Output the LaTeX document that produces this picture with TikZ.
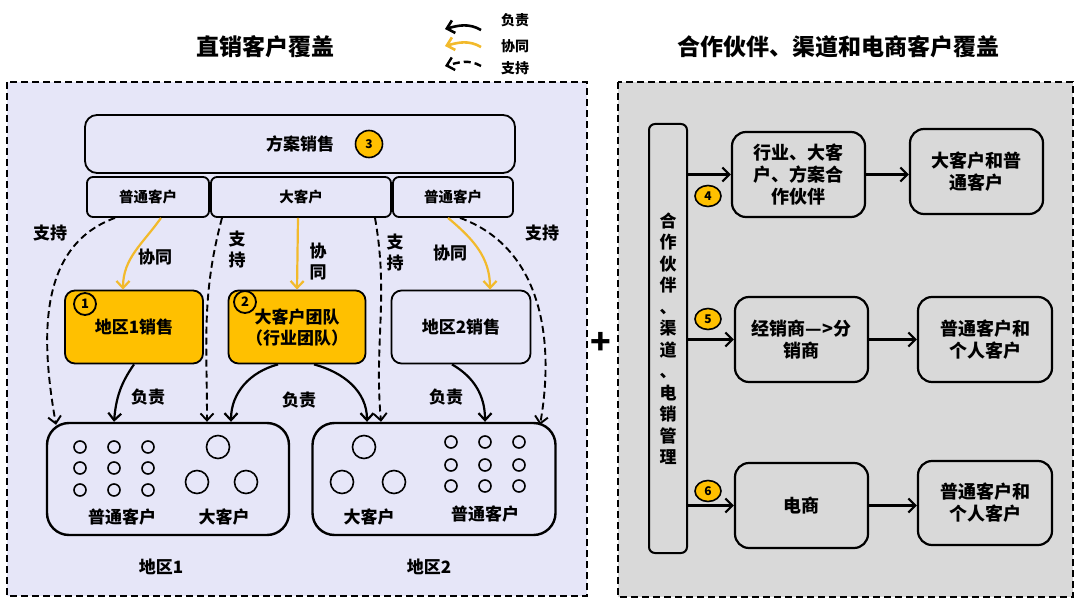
\documentclass[tikz,border=0pt]{standalone}
\usepackage{fontspec}
\setmainfont{Noto Sans CJK SC}
\usetikzlibrary{shapes.geometric, arrows.meta, positioning}
\usepackage{xcolor}
\definecolor{lavbg}{HTML}{E6E6F8}
\definecolor{greybg}{HTML}{D9D9D9}
\definecolor{gold}{HTML}{FFC000}
\definecolor{goldline}{HTML}{F2BA2C}

\begin{document}
\begin{tikzpicture}[x=1pt, y=1pt,
    every node/.style={font=\bfseries},
    panel/.style={line width=2pt, dash pattern=on 7pt off 4pt},
    box/.style={draw, line width=1.8pt, rounded corners=#1, align=center, inner sep=0pt, fill=lavbg},
    box/.default=8pt,
    lbl/.style={font=\bfseries\fontsize{17}{21}\selectfont},
    sub/.style={font=\bfseries\fontsize{14.5}{17}\selectfont},
    big/.style={font=\bfseries\fontsize{18}{22}\selectfont},
    ttl/.style={font=\bfseries\fontsize{23}{27}\selectfont},
    lgd/.style={font=\bfseries\fontsize{14}{16}\selectfont},
    duty/.style={-{Straight Barb[length=7pt,width=13pt]}, line width=2.2pt},
    coop/.style={duty, draw=goldline},
    support/.style={duty, dash pattern=on 7pt off 4pt, line width=1.9pt},
    flow/.style={-{Straight Barb[length=7pt,width=14pt]}, line width=2.2pt},
    badge/.style={ellipse, draw, line width=1.6pt, fill=gold, minimum width=26pt, minimum height=21pt, inner sep=0pt, font=\bfseries\fontsize{12}{12}\selectfont},
    ring/.style={circle, draw, line width=1.8pt, minimum size=22pt, inner sep=0pt, font=\bfseries\fontsize{13}{13}\selectfont},
    dot/.style={line width=1.6pt}
  ]
    \useasboundingbox (0,0) rectangle (1075,606);

    % the two panels
    \draw[panel, fill=lavbg] (7,524) rectangle (587,10);
    \draw[panel, fill=greybg] (618,524) rectangle (1073,9);
    \node[ttl] (ttlL) at (265,559) {直销客户覆盖};
    \node[ttl] (ttlR) at (838,559) {合作伙伴、渠道和电商客户覆盖};
    \node[font=\bfseries\fontsize{34}{34}\selectfont] (plus) at (601,263) {+};

    % legend
    \node[lgd] (lgA) at (515,586) {负责};
    \node[lgd] (lgB) at (515,560) {协同};
    \node[lgd] (lgC) at (515,538) {支持};
    \coordinate (lgA1) at (481,576);
    \coordinate (lgA2) at (445,577);
    \coordinate (lgB1) at (481,559);
    \coordinate (lgB2) at (445,560);
    \coordinate (lgC1) at (481,540);
    \coordinate (lgC2) at (445,540);
    \draw[duty, line width=2.6pt] (lgA1) to[out=150,in=15] (lgA2);
    \draw[coop, line width=2.6pt] (lgB1) to[out=150,in=15] (lgB2);
    \draw[support, line width=2.4pt] (lgC1) to[out=150,in=15] (lgC2);

    % direct sales
    \node[box=12pt, lbl, minimum width=430pt, minimum height=58pt] (fangan) at (300,462) {方案销售};
    \node[badge, minimum width=27pt, minimum height=27pt, circle] (n3) at (369,462) {3};
    \node[box=6pt, sub, minimum width=122pt, minimum height=40pt] (pt1) at (148,409) {普通客户};
    \node[box=6pt, sub, minimum width=180pt, minimum height=40pt] (dk) at (301,409) {大客户};
    \node[box=6pt, sub, minimum width=120pt, minimum height=40pt] (pt2) at (453,409) {普通客户};

    \node[box=10pt, lbl, fill=gold, minimum width=138pt, minimum height=73pt] (r1s) at (134,279) {地区1销售};
    \node[box=10pt, lbl, fill=gold, minimum width=137pt, minimum height=73pt] (dkt) at (297,279) {大客户团队\\（行业团队）};
    \node[box=10pt, lbl, minimum width=139pt, minimum height=73pt] (r2s) at (461,279) {地区2销售};
    \node[ring] (n1) at (85,302) {1};
    \node[ring] (n2) at (245,304) {2};

    \node[box=22pt, line width=2.4pt, minimum width=242pt, minimum height=112pt] (reg1) at (168,127) {};
    \node[box=22pt, line width=2.4pt, minimum width=243pt, minimum height=112pt] (reg2) at (434,127) {};
    \foreach \x in {80,114,148}
      \foreach \y in {159,138,116}
        \draw[dot] (\x,\y) circle (6pt);
    \foreach \x in {451,485,519}
      \foreach \y in {164,141,120}
        \draw[dot] (\x,\y) circle (6pt);
    \foreach \x/\y in {218/159, 197/124, 246/124, 364/159, 342/124, 394/124}
      \draw[dot] (\x,\y) circle (11.5pt);
    \node[lbl] (pt1a) at (122,89) {普通客户};
    \node[lbl] (dk1a) at (224,89) {大客户};
    \node[lbl] (dk2a) at (369,89) {大客户};
    \node[lbl] (pt2a) at (485,92) {普通客户};
    \node[lbl] (area1) at (161,39) {地区1};
    \node[lbl] (area2) at (429,39) {地区2};

    % coop arrows
    \draw[coop] ([xshift=13pt]pt1.south) to[out=-125,in=90] ([xshift=-11pt]r1s.north);
    \draw[coop] ([xshift=-3pt]dk.south) -- (dkt.north);
    \draw[coop] ([xshift=-5pt]pt2.south) to[out=-40,in=90] ([xshift=29pt]r2s.north);
    \node[lbl] (c1) at (155,349) {协同};
    \node[lbl, align=center] (c2) at (318,344) {协\\同};
    \node[lbl] (c3) at (450,353) {协同};

    % support arrows
    \draw[support] ([xshift=-33pt]pt1.south) to[out=200,in=100] ([xshift=-112pt,yshift=-3pt]reg1.north);
    \draw[support] ([xshift=-79pt]dk.south) to[out=-105,in=90] ([xshift=39pt]reg1.north);
    \draw[support] ([xshift=74pt]dk.south) to[out=-80,in=95] ([xshift=-53pt]reg2.north);
    \draw[support] ([xshift=7pt]pt2.south) to[out=-20,in=80] ([xshift=106pt,yshift=-3pt]reg2.north);
    \node[lbl] (s1) at (50,373) {支持};
    \node[lbl, align=center] (s2) at (237,356) {支\\持};
    \node[lbl, align=center] (s3) at (395,353) {支\\持};
    \node[lbl] (s4) at (542,373) {支持};

    % duty arrows
    \draw[duty] (r1s.south) to[out=-125,in=85] ([xshift=-54pt]reg1.north);
    \draw[duty] ([xshift=-19pt]dkt.south) to[out=-165,in=90] ([xshift=63pt]reg1.north);
    \draw[duty] ([xshift=17pt]dkt.south) to[out=-15,in=90] ([xshift=-67pt]reg2.north);
    \draw[duty] ([xshift=-9pt]r2s.south) to[out=-30,in=90] ([xshift=51pt]reg2.north);
    \node[lbl] (d1) at (148,209) {负责};
    \node[lbl] (d2) at (299,206) {负责};
    \node[lbl] (d3) at (446,209) {负责};

    % partners, channels, e-commerce
    \node[box=6pt, fill=greybg, line width=2pt, minimum width=38pt, minimum height=429pt, font=\bfseries\fontsize{17}{21.5}\selectfont] (bar) at (668,267.5)
      {合\\作\\伙\\伴\\、\\渠\\道\\、\\电\\销\\管\\理};
    \node[box=14pt, big, line width=2.2pt, fill=greybg, minimum width=133pt, minimum height=85pt] (b1) at (798.5,431.5) {行业、大客\\户、方案合\\作伙伴};
    \node[box=14pt, big, line width=2.2pt, fill=greybg, minimum width=133pt, minimum height=85pt] (c1b) at (976.5,434.5) {大客户和普\\通客户};
    \node[box=14pt, big, line width=2.2pt, fill=greybg, minimum width=133pt, minimum height=85pt] (b2) at (801.5,266.5) {经销商—>分\\销商};
    \node[box=14pt, big, line width=2.2pt, fill=greybg, minimum width=134pt, minimum height=85pt] (c2b) at (985,266.5) {普通客户和\\个人客户};
    \node[box=14pt, big, line width=2.2pt, fill=greybg, minimum width=133pt, minimum height=85pt] (b3) at (801.5,100.5) {电商};
    \node[box=14pt, big, line width=2.2pt, fill=greybg, minimum width=134pt, minimum height=84pt] (c3b) at (985,103) {普通客户和\\个人客户};

    \draw[flow] (bar.east |- b1.west) -- (b1.west);
    \draw[flow] (bar.east |- b2.west) -- (b2.west);
    \draw[flow] (bar.east |- b3.west) -- (b3.west);
    \draw[flow] (b1.east) -- (b1.east -| c1b.west);
    \draw[flow] (b2.east) -- (b2.east -| c2b.west);
    \draw[flow] (b3.east) -- (b3.east -| c3b.west);
    \node[badge] (n4) at (708,410) {4};
    \node[badge] (n5) at (708,287) {5};
    \node[badge] (n6) at (708,115) {6};
\end{tikzpicture}
\end{document}
